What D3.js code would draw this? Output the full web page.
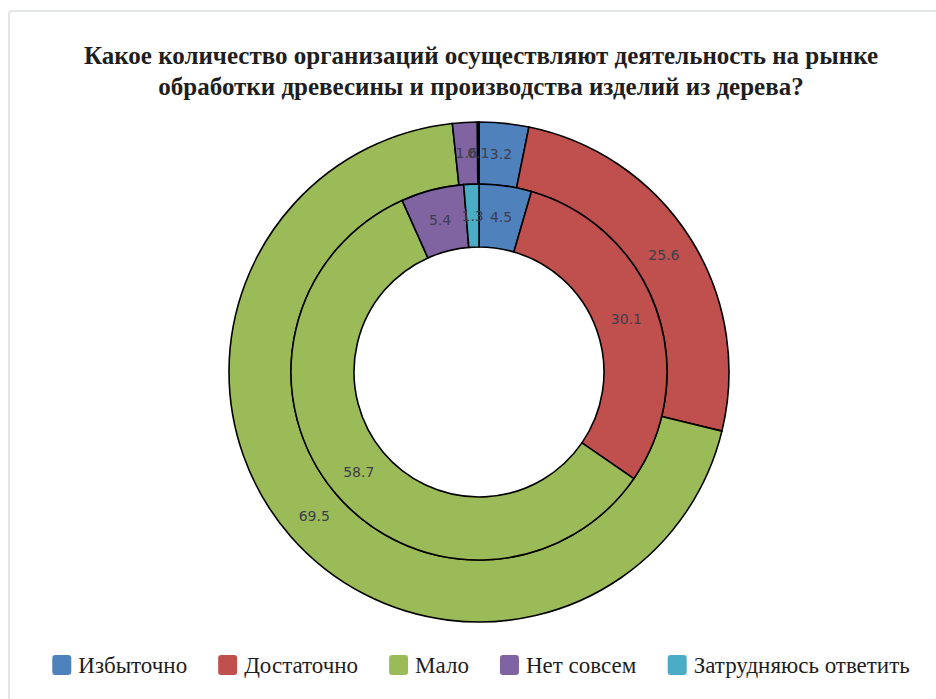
<!DOCTYPE html>
<html>
<head>
<meta charset="utf-8">
<script src="https://cdn.jsdelivr.net/npm/d3@7"></script>
<style>
  body { margin: 0; background: #fff; }
  svg { display: block; }
</style>
</head>
<body>
<div id="elements"></div>
<script>
'use strict';
// double donut: inner ring and outer ring, shares in percent

var categories = ["Избыточно", "Достаточно", "Мало", "Нет совсем", "Затрудняюсь ответить"];
var colors = ["#4f81bd", "#c0504d", "#9bbb59", "#8064a2", "#4bacc6"];
var innerValues = [4.5, 30.1, 58.7, 5.4, 1.3];
var outerValues = [3.2, 25.6, 69.5, 1.6, 0.1];
var titleLines = ["Какое количество организаций осуществляют деятельность на рынке",
                  "обработки древесины и производства изделий из дерева?"];

var width = 936, height = 699;
var cx = 479, cy = 372;

var svg = d3.select("#elements").append("svg")
    .attr("width", width)
    .attr("height", height);

// light frame round the chart
svg.append("rect")
    .attr("x", 9).attr("y", 11)
    .attr("width", width + 20).attr("height", height + 20)
    .attr("rx", 3)
    .attr("fill", "none")
    .attr("stroke", "#e3e6e6")
    .attr("stroke-width", 2);

// title
svg.append("g")
    .selectAll("text")
    .data(titleLines)
    .enter()
    .append("text")
        .attr("x", 481)
        .attr("y", function(d, i) { return 64 + i * 31; })
        .attr("text-anchor", "middle")
        .style("font-family", "'Liberation Serif', 'Times New Roman', serif")
        .style("font-weight", "bold")
        .style("font-size", "25px")
        .attr("fill", "#1e1e1e")
        .text(function(d) { return d; });

var color = d3.scaleOrdinal(categories, colors);
var pie = d3.pie().sort(null).value(function(d) { return d.value; });

var rings = [
    {values: outerValues, inner: 188, outer: 250},
    {values: innerValues, inner: 125, outer: 188}
];

var g = svg.append("g").attr("transform", "translate(" + cx + "," + cy + ")");

rings.forEach(function(ring) {
    var data = categories.map(function(c, i) { return {key: c, value: ring.values[i]}; });
    var arc = d3.arc().innerRadius(ring.inner).outerRadius(ring.outer);
    var arcs = pie(data);
    var rg = g.append("g");

    rg.selectAll("path")
        .data(arcs)
        .enter()
        .append("path")
            .attr("d", arc)
            .attr("fill", function(d) { return color(d.data.key); })
            .attr("stroke", "#000")
            .style("stroke-width", 1.6);

    rg.selectAll("text")
        .data(arcs)
        .enter()
        .append("text")
            .attr("transform", function(d) { return "translate(" + arc.centroid(d) + ")"; })
            .attr("text-anchor", "middle")
            .attr("dy", "0.35em")
            .style("font-family", "'DejaVu Sans', sans-serif")
            .style("font-size", "14px")
            .attr("fill", "#3d3d4d")
            .text(function(d) { return d.data.value; });
});

// legend
var legend = svg.append("g").attr("transform", "translate(0,665)");
var items = legend.selectAll("g")
    .data(categories)
    .enter()
    .append("g");

items.append("rect")
    .attr("y", -10)
    .attr("width", 19)
    .attr("height", 20)
    .attr("rx", 3)
    .attr("fill", function(d) { return color(d); });

items.append("text")
    .attr("x", 26)
    .attr("y", 8)
    .style("font-family", "'Liberation Serif', 'Times New Roman', serif")
    .style("font-size", "23px")
    .attr("fill", "#1e1e1e")
    .text(function(d) { return d; });

var x = 0, gap = 31, offsets = [];
items.each(function() {
    offsets.push(x);
    x += this.getBBox().width + gap;
});
var total = x - gap;
var start = 481 - total / 2;
items.attr("transform", function(d, i) { return "translate(" + (start + offsets[i]) + ",0)"; });
</script>
</body>
</html>
